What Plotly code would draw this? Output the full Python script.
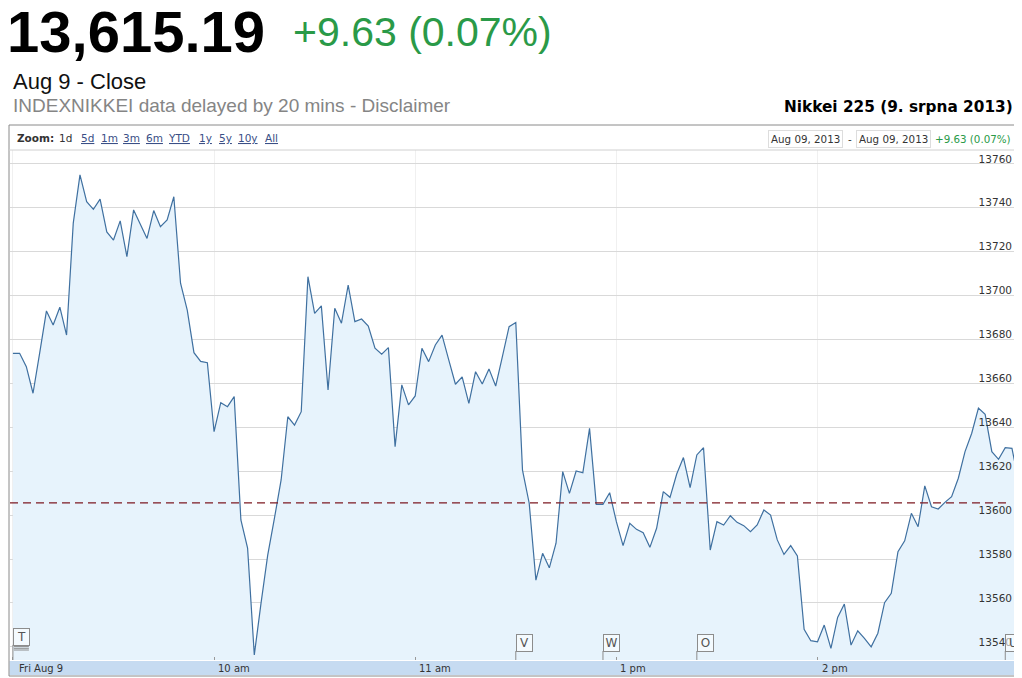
import plotly.graph_objects as go

# ---------------- data ----------------
CLOSE = 13615.19
CHANGE = 9.63
CHANGE_PCT = 0.07
PREV_CLOSE = round(CLOSE - CHANGE, 2)

STEP_MIN = 2
MORNING_START = "09:00"
MORNING_VALUES = [
    13673.7, 13673.7, 13667.6, 13655.5, 13674.0, 13693.0, 13686.6, 13694.7, 13682.0, 13733.0,
    13755.0, 13742.8, 13739.3, 13743.9, 13729.0, 13725.3, 13734.0, 13717.7, 13739.0, 13732.5,
    13726.0, 13738.7, 13731.4, 13734.4, 13745.0, 13705.6, 13693.4, 13674.0, 13670.0, 13669.4,
    13638.0, 13651.2, 13649.4, 13654.0, 13597.8, 13585.0, 13536.3, 13559.8, 13581.8, 13598.5,
    13616.0, 13644.8, 13641.0, 13647.1, 13708.6, 13691.9, 13695.3, 13657.0, 13694.2, 13687.4,
    13704.8, 13688.1, 13689.3, 13686.1, 13676.0, 13673.3, 13676.3, 13631.2, 13659.3, 13650.2,
    13654.3, 13676.0, 13669.9, 13677.5, 13682.0, 13670.7, 13659.6, 13663.0, 13650.9, 13665.3,
    13659.7, 13666.6, 13658.8, 13672.2, 13685.8, 13687.7,
]
AFTERNOON_START = "12:32"
AFTERNOON_VALUES = [
    13620.5, 13605.4, 13570.4, 13582.6, 13576.0, 13587.2, 13619.8, 13609.9, 13620.1, 13619.3,
    13639.5, 13604.9, 13604.9, 13610.2, 13597.0, 13586.1, 13596.3, 13593.5, 13592.0, 13585.3,
    13594.0, 13610.7, 13608.1, 13618.7, 13626.2, 13612.5, 13627.4, 13630.7, 13584.1, 13597.0,
    13595.5, 13599.7, 13596.7, 13595.2, 13592.4, 13595.5, 13602.3, 13600.0, 13588.7, 13582.1,
    13586.1, 13581.4, 13548.0, 13542.8, 13542.3, 13549.9, 13539.3, 13553.4, 13559.5, 13540.8,
    13547.3, 13543.9, 13540.0, 13546.2, 13560.1, 13564.4, 13583.3, 13588.3, 13600.8, 13594.7,
    13613.3, 13603.8, 13602.8, 13605.8, 13608.4, 13616.8, 13628.9, 13637.3, 13648.7, 13645.9,
    13628.9, 13625.4, 13630.7, 13630.4, 13615.19,
]

Y_TICKS = [13540, 13560, 13580, 13600, 13620, 13640, 13660, 13680, 13700, 13720, 13740, 13760]
X_TICK_TIMES = ["09:00", "10:00", "11:00", "13:00", "14:00"]
X_TICK_LABELS = ["Fri Aug 9", "10 am", "11 am", "1 pm", "2 pm"]
FLAG_TIMES = ["09:00", "12:30", "12:56", "13:24", "14:56"]
FLAG_LETTERS = ["T", "V", "W", "O", "U"]
FLAG_STACK = [3, 0, 0, 0, 0]   # extra stacked flags hidden beneath
ZOOM_LINKS = ["1d", "5d", "1m", "3m", "6m", "YTD", "1y", "5y", "10y", "All"]
ZOOM_ACTIVE = "1d"
TITLE = "Nikkei 225 (9. srpna 2013)"
DATE_FROM = "Aug 09, 2013"
DATE_TO = "Aug 09, 2013"
SUBTITLE = "Aug 9 - Close"
SOURCE = "INDEXNIKKEI data delayed by 20 mins - Disclaimer"

# ---------------- helpers ----------------
def to_min(hhmm):
    h, m = map(int, hhmm.split(":"))
    return h * 60 + m


def trading_min(hhmm):
    """minutes since 9:00, with the 11:30-12:30 lunch break removed"""
    t = to_min(hhmm) - 540
    if t > 150:
        t -= 60
    return t


def series_times(start, n):
    s = to_min(start)
    return ["%02d:%02d" % divmod(s + STEP_MIN * i, 60) for i in range(n)]


times = series_times(MORNING_START, len(MORNING_VALUES)) + series_times(AFTERNOON_START, len(AFTERNOON_VALUES))
values = MORNING_VALUES + AFTERNOON_VALUES
xs = [trading_min(t) for t in times]

# The page body has an 8px margin, so the figure is placed at (8, 8) in the window.
OFF = 8
W, H = 1022 - OFF, 678 - OFF
# plot area in window coordinates: x 10..1019, y 150..660
PL, PR, PT, PB = 10, 1019, 150, 660
ML, MR, MT, MB = PL - OFF, W - (PR - OFF), PT - OFF, H - (PB - OFF)
PW, PH = PR - PL, PB - PT


def px(x):
    return (x - PL) / PW


def py(y):
    return (PB - y) / PH


FONT = "DejaVu Sans"
ARIAL = "Liberation Sans, Arial"

fig = go.Figure()
fig.add_trace(go.Scatter(
    x=xs, y=values, mode="lines",
    line=dict(color="#3f70a0", width=1.2),
    fill="tozeroy", fillcolor="#e7f3fc",
    hoverinfo="skip", showlegend=False,
))

shapes = []
annotations = []

# frame & toolbar separator
shapes.append(dict(type="rect", xref="paper", yref="paper", x0=px(9), x1=px(1018.5), y0=py(676), y1=py(125),
                   line=dict(color="#8a8a8a", width=1), layer="above"))
shapes.append(dict(type="line", xref="paper", yref="paper", x0=px(9), x1=px(1018.5), y0=py(150), y1=py(150),
                   line=dict(color="#d0d0d0", width=1)))
# x-axis band
shapes.append(dict(type="rect", xref="paper", yref="paper", x0=px(9.5), x1=px(1018), y0=py(675), y1=py(661),
                   fillcolor="#c6dbf1", line=dict(width=0), layer="below"))
# previous close dashed line
shapes.append(dict(type="line", xref="paper", yref="y", x0=0, x1=px(1011), y0=PREV_CLOSE, y1=PREV_CLOSE,
                   line=dict(color="#7d1a22", width=1.2, dash="8px,5px"), layer="above"))

# header texts
annotations.append(dict(text="<b>%s</b>" % f"{CLOSE:,.2f}", x=px(5), y=py(31.5), xref="paper", yref="paper",
                        xanchor="left", yanchor="middle", showarrow=False,
                        font=dict(family=ARIAL, size=58, color="#000000")))
annotations.append(dict(text=f"+{CHANGE:.2f} ({CHANGE_PCT:.2f}%)", x=px(291), y=py(32), xref="paper", yref="paper",
                        xanchor="left", yanchor="middle", showarrow=False,
                        font=dict(family=ARIAL, size=41, color="#2a9a48")))
annotations.append(dict(text=SUBTITLE, x=px(11), y=py(81), xref="paper", yref="paper",
                        xanchor="left", yanchor="middle", showarrow=False,
                        font=dict(family=ARIAL, size=22, color="#111111")))
annotations.append(dict(text=SOURCE, x=px(11), y=py(105), xref="paper", yref="paper",
                        xanchor="left", yanchor="middle", showarrow=False,
                        font=dict(family=ARIAL, size=19, color="#858585")))
annotations.append(dict(text="<b>%s</b>" % TITLE, x=px(1015), y=py(107), xref="paper", yref="paper",
                        xanchor="right", yanchor="middle", showarrow=False,
                        font=dict(family=FONT, size=15.3, color="#000000")))

# toolbar
annotations.append(dict(text="<b>Zoom:</b>", x=px(15), y=py(138), xref="paper", yref="paper",
                        xanchor="left", yanchor="middle", showarrow=False,
                        font=dict(family=FONT, size=10.5, color="#333333")))
ZOOM_X = [57, 79, 99, 121, 144, 166, 197, 217, 236, 263]
for lab, zx in zip(ZOOM_LINKS, ZOOM_X):
    txt = lab if lab == ZOOM_ACTIVE else "<u>%s</u>" % lab
    col = "#333333" if lab == ZOOM_ACTIVE else "#3a4f86"
    annotations.append(dict(text=txt, x=px(zx), y=py(138), xref="paper", yref="paper",
                            xanchor="left", yanchor="middle", showarrow=False,
                            font=dict(family=FONT, size=10.5, color=col)))
for txt, cx in ((DATE_FROM, 805.5), (DATE_TO, 893)):
    annotations.append(dict(text=txt, x=px(cx), y=py(139), xref="paper", yref="paper",
                            xanchor="center", yanchor="middle", showarrow=False,
                            bordercolor="#dddddd", borderwidth=1, borderpad=2, bgcolor="#ffffff",
                            font=dict(family=FONT, size=10.3, color="#333333")))
annotations.append(dict(text="-", x=px(849.5), y=py(139), xref="paper", yref="paper",
                        xanchor="center", yanchor="middle", showarrow=False,
                        font=dict(family=FONT, size=10.3, color="#333333")))
annotations.append(dict(text=f"+{CHANGE:.2f} ({CHANGE_PCT:.2f}%)", x=px(933), y=py(139), xref="paper", yref="paper",
                        xanchor="left", yanchor="middle", showarrow=False,
                        font=dict(family=FONT, size=10.3, color="#2a9a48")))

# x tick labels (left aligned right of tick)
for t, lab in zip(X_TICK_TIMES, X_TICK_LABELS):
    xv = trading_min(t)
    annotations.append(dict(text=lab, x=xv, y=py(668), xref="x", yref="paper",
                            xanchor="left", yanchor="middle", xshift=(4 if xv == 0 else 2), showarrow=False,
                            font=dict(family=FONT, size=10, color="#333333")))

# news flags
for t, letter, stack in zip(FLAG_TIMES, FLAG_LETTERS, FLAG_STACK):
    xv = trading_min(t)
    box_bottom = 651 - 1.7 * stack - (1 if stack else 0)
    annotations.append(dict(text=letter, x=xv, y=py(box_bottom - 8), xref="x", yref="paper",
                            xanchor="left", yanchor="middle", showarrow=False,
                            width=13, height=14, borderpad=1, bordercolor="#8c8c8c", borderwidth=1,
                            bgcolor="rgba(255,255,255,0.55)", font=dict(family=FONT, size=12, color="#555555")))
    for k in range(stack):
        yy = box_bottom + 1.7 * (k + 1)
        shapes.append(dict(type="line", xref="x", yref="paper", x0=xv, x1=xv, y0=py(yy), y1=py(yy),
                           xsizemode="pixel", xanchor=xv,
                           line=dict(color="#8c8c8c", width=1)))
        shapes[-1].update(x0=1, x1=16)
    shapes.append(dict(type="line", xref="x", yref="paper", x0=xv, x1=xv, y0=py(660), y1=py(box_bottom),
                       line=dict(color="#8c8c8c", width=1)))

fig.update_layout(
    width=W, height=H,
    margin=dict(l=ML, r=MR, t=MT, b=MB, pad=0),
    paper_bgcolor="#ffffff", plot_bgcolor="#ffffff",
    showlegend=False,
    xaxis=dict(
        range=[-0.87, 300.1], tickvals=[trading_min(t) for t in X_TICK_TIMES],
        showticklabels=False, ticks="inside", ticklen=3, tickcolor="#999999",
        showgrid=True, gridcolor="#f0f0f0", gridwidth=1, zeroline=False, showline=False,
        fixedrange=True,
    ),
    yaxis=dict(
        range=[13534, 13766.3], side="right", tickvals=Y_TICKS, ticklabelposition="inside",
        tickformat="d", ticks="", ticklabelstandoff=4, ticklabelshift=-5,
        tickfont=dict(family=FONT, size=10.5, color="#333333"),
        showgrid=True, gridcolor="#d9d9d9", gridwidth=1, zeroline=False, showline=False,
        fixedrange=True,
    ),
    shapes=shapes,
    annotations=annotations,
)

fig.write_html("out.html")
